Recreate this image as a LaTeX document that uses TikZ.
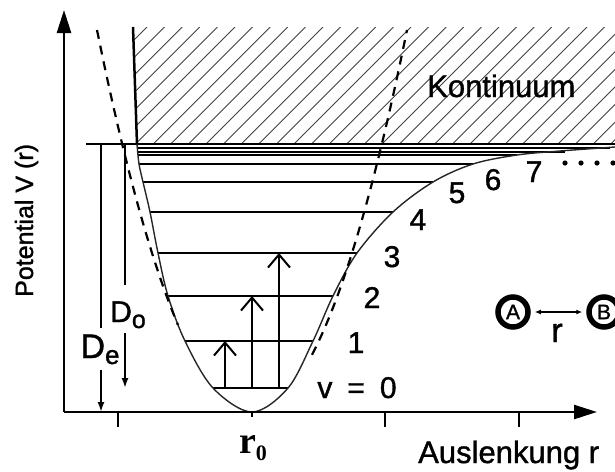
\documentclass[tikz,border=0pt]{standalone}
\usepackage{fontspec}
\setmainfont{Liberation Sans}[FakeBold=1.2]
\newfontfamily\serifschrift{Liberation Serif}
\usetikzlibrary{arrows.meta}

\begin{document}
\begin{tikzpicture}[
    x=1pt, y=-1pt,
    % Achsen und Teilstriche
    achse/.style={line width=2.5pt, -{Triangle[length=23pt,width=14pt]}},
    strich/.style={line width=2pt},
    % Schwingungsniveaus
    niveau/.style={line width=2pt},
    % Potentialkurven
    morse/.style={line width=1.4pt, black!85},
    harm/.style={line width=2.2pt, dash pattern=on 9pt off 7pt},
    % Pfeile
    anreg/.style={line width=2pt, -{Straight Barb[length=13pt,width=22pt]}},
    dlinie/.style={line width=1.8pt},
    dpfeil/.style={line width=1.8pt, -{Latex[length=10pt,width=7pt]}},
    % Texte
    txt/.style={font=\fontsize{31}{31}\selectfont, inner sep=0pt},
    zahl/.style={font=\fontsize{30}{30}\selectfont, inner sep=0pt, anchor=base},
    atom/.style={draw, circle, line width=5.5pt, minimum size=30pt,
        inner sep=0pt, font=\fontsize{21}{21}\selectfont}
]
\useasboundingbox (0,0) rectangle (615,471);
\clip (0,0) rectangle (615,471);

% ---- KONTINUUM (schraffiert) ----
\begin{scope}
    \clip (133,27) -- (615,27) -- (615,144) -- (137,144) -- cycle;
    \foreach \i in {0,...,34}
        \draw[black!75, line width=0.9pt] (30+17.6*\i,144) -- ++(117,-117);
\end{scope}
\node[txt, anchor=base west] (kont) at (427,97) {Kontinuum};

% Potentialwand und Dissoziationsgrenze
\draw[line width=2.5pt] (133,27) -- (137,144);
\draw[line width=2.4pt] (86,144) -- (615,144);

% ---- SCHWINGUNGSNIVEAUS ----
\draw[niveau] (213,388) -- (288,388);
\draw[niveau] (185,341) -- (313,341);
\draw[niveau] (168,296) -- (333,296);
\draw[niveau] (158,253) -- (357,253);
\draw[niveau] (150,212) -- (393,212);
\draw[niveau] (143,182) -- (433,182);
\draw[niveau] (139,164) -- (473,164);
\draw[niveau] (138,155) -- (517,155);
\draw[niveau] (137.5,151.5) -- (565,151.5);
\draw[niveau] (137,148) -- (610,148);

% ---- POTENTIALKURVEN ----
\draw[morse] plot[smooth, tension=0.55] coordinates {
    (137,144) (139,164) (143,182) (150,212) (158,253) (168,296) (185,341)
    (213,388) (252,412) (288,388) (313,341) (333,296) (357,253) (393,212)
    (433,182) (473,164) (517,155) (560,151) (615,147)};

% harmonische Naeherung
\draw[harm] plot[domain=97:178, samples=30] (\x, {412-(0.1261*(\x-252))^2});
\draw[harm] plot[domain=312:407, samples=30] (\x, {412-(0.1261*(\x-252))^2});

% ---- ANREGUNGEN ----
\draw[anreg] (225,388) -- (225,341);
\draw[anreg] (252,388) -- (252,296);
\draw[anreg] (279,388) -- (279,253);

% ---- DISSOZIATIONSENERGIEN ----
\node[font=\fontsize{34}{34}\selectfont, inner xsep=0pt, inner ysep=2pt,
    text height=28pt, text depth=10pt, anchor=base] (De) at (100,358)
    {D\raisebox{-6pt}{\fontsize{26}{26}\selectfont e}};
\node[font=\fontsize{30}{30}\selectfont, inner xsep=0pt, inner ysep=2pt,
    text height=35pt, text depth=9pt, anchor=base] (Do) at (128,322)
    {D\raisebox{-6pt}{\fontsize{25}{25}\selectfont o}};

\coordinate (De_oben)  at (101,144);
\coordinate (De_unten) at (101,412);
\coordinate (Do_oben)  at (125,144);
\coordinate (Do_unten) at (125,388);

\draw[dlinie] (De_oben) -- (De_oben |- De.north);
\draw[dpfeil] (De_oben |- De.south) -- (De_unten);
\draw[dlinie] (Do_oben) -- (Do_oben |- Do.north);
\draw[dpfeil] (Do_oben |- Do.south) -- (Do_unten);

% ---- QUANTENZAHLEN ----
\node[zahl] (v0) at (357,398) {v\hspace{15pt}=\hspace{15pt}0};
\node[zahl] (v1) at (356,353) {1};
\node[zahl] (v2) at (372,308) {2};
\node[zahl] (v3) at (392,267) {3};
\node[zahl] (v4) at (418,230) {4};
\node[zahl] (v5) at (457,203) {5};
\node[zahl] (v6) at (493,190) {6};
\node[zahl] (v7) at (534,182) {7};
\foreach \x in {565,581,597,613}
    \fill (\x,163) circle[radius=2.6pt];

% ---- ACHSEN ----
\coordinate (ursprung) at (64,412);
\coordinate (yende)    at (64,10);
\coordinate (xende)    at (597,412);
\draw[achse] (ursprung) -- (yende);
\draw[achse] (ursprung) -- (xende);

\draw[strich] (118,412) -- (118,427);
\draw[strich] (385,412) -- (385,427);
\draw[strich] (519,412) -- (519,427);
\draw[strich] (252,412) -- (252,417);

\node[font=\fontsize{25}{25}\selectfont, rotate=90, anchor=base west,
    inner sep=0pt] (ylabel) at (33,297) {Potential V (r)};
\node[txt, anchor=base west] (xlabel) at (418,463) {Auslenkung r};
\node[font=\serifschrift\bfseries\fontsize{38}{38}\selectfont, inner sep=0pt,
    anchor=base] (rnull) at (253,453)
    {r\raisebox{-7pt}{\fontsize{22}{22}\selectfont 0}};

% ---- MOLEKUEL ----
\node[atom] (A) at (513,312) {A};
\node[atom] (B) at (604,312) {B};
\draw[line width=1.5pt, {Latex[length=6pt,width=5pt]}-{Latex[length=6pt,width=5pt]},
    shorten <=4pt, shorten >=4pt] (A) -- (B);
\node[font=\fontsize{34}{34}\selectfont, inner sep=0pt, anchor=base] (rabst)
    at (557,342) {r};

\end{tikzpicture}
\end{document}
